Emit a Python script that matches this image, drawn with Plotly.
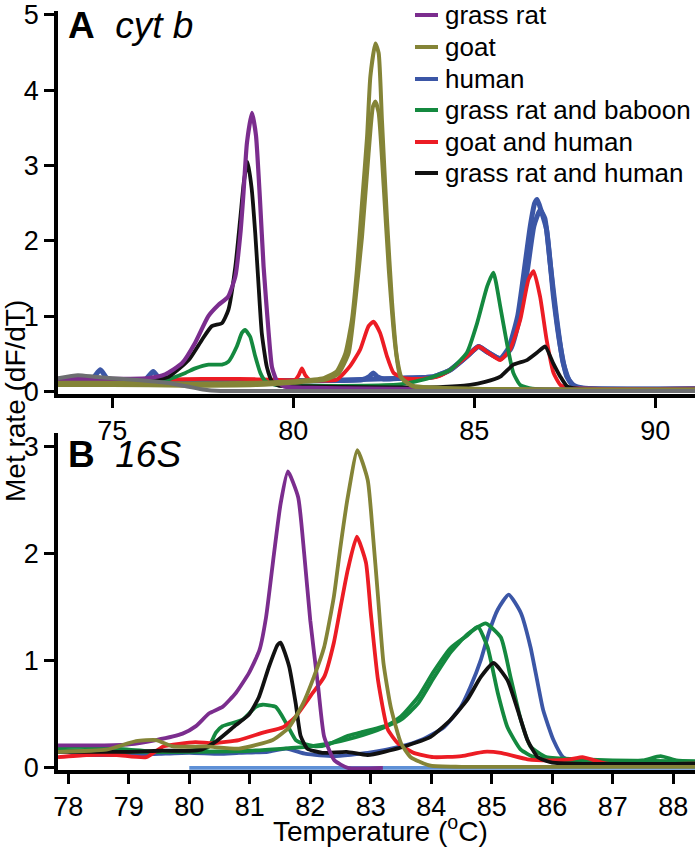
import plotly.graph_objects as go

# ---------------- Panel A (cyt b) data ----------------
A_GRASSRAT_T = [73.5, 74.5, 75.5, 76.0, 76.46, 76.93, 77.29, 77.65, 77.93, 78.2, 78.4, 78.54, 78.62, 78.72, 78.86, 78.97, 79.08, 79.18, 79.32, 79.41, 79.55, 79.75, 80.5, 82.0, 85.0, 91.1]
A_GRASSRAT_V = [0.17, 0.17, 0.17, 0.18, 0.23, 0.38, 0.65, 1.0, 1.15, 1.26, 1.53, 2.1, 2.6, 3.3, 3.70, 3.4, 2.55, 1.66, 0.78, 0.33, 0.14, 0.07, 0.05, 0.04, 0.03, 0.03]

A_GOAT1_T = [73.5, 75.0, 77.0, 79.0, 80.0, 80.84, 81.2, 81.44, 81.62, 81.76, 81.9, 82.04, 82.13, 82.27, 82.36, 82.45, 82.59, 82.73, 82.86, 83.0, 83.3, 85.0, 91.1]
A_GOAT1_V = [0.12, 0.12, 0.11, 0.12, 0.14, 0.18, 0.27, 0.51, 0.95, 1.62, 2.5, 3.38, 4.18, 4.62, 4.49, 3.6, 2.28, 1.18, 0.47, 0.18, 0.08, 0.04, 0.03]
A_GOAT2_T = [73.5, 75.0, 77.0, 79.0, 80.0, 80.9, 81.25, 81.53, 81.71, 81.9, 82.08, 82.2, 82.27, 82.36, 82.5, 82.64, 82.82, 82.96, 83.3, 85.0, 91.1]
A_GOAT2_V = [0.09, 0.09, 0.08, 0.09, 0.12, 0.16, 0.24, 0.51, 1.18, 2.06, 3.16, 3.78, 3.85, 3.7, 2.72, 1.62, 0.6, 0.2, 0.07, 0.03, 0.02]

A_HUMAN1_T = [73.5, 74.4, 74.67, 74.9, 75.5, 75.9, 76.13, 76.35, 77.0, 80.0, 81.9, 82.1, 82.21, 82.32, 82.5, 83.0, 83.88, 84.34, 84.8, 85.12, 85.35, 85.72, 85.95, 86.2, 86.41, 86.55, 86.67, 86.74, 86.85, 87.0, 87.19, 87.38, 87.56, 87.74, 88.0, 91.1]
A_HUMAN1_V = [0.15, 0.15, 0.29, 0.15, 0.14, 0.15, 0.27, 0.15, 0.14, 0.15, 0.16, 0.2, 0.25, 0.2, 0.17, 0.18, 0.2, 0.29, 0.47, 0.6, 0.53, 0.44, 0.58, 1.0, 1.71, 2.2, 2.5, 2.55, 2.4, 2.15, 1.26, 0.6, 0.2, 0.09, 0.05, 0.04]
A_HUMAN2_T = [73.5, 80.0, 83.0, 83.88, 84.34, 84.8, 85.12, 85.35, 85.72, 86.0, 86.25, 86.48, 86.65, 86.82, 86.95, 87.1, 87.27, 87.45, 87.62, 87.8, 91.1]
A_HUMAN2_V = [0.14, 0.14, 0.18, 0.2, 0.29, 0.47, 0.6, 0.53, 0.44, 0.56, 0.98, 1.65, 2.2, 2.41, 2.3, 1.7, 1.0, 0.4, 0.15, 0.06, 0.04]

A_RATBABOON_T = [73.5, 74.5, 75.5, 76.5, 77.02, 77.29, 77.66, 78.03, 78.21, 78.44, 78.58, 78.67, 78.81, 78.95, 79.09, 79.23, 79.5, 80.5, 82.0, 83.0, 83.5, 83.88, 84.34, 84.8, 85.08, 85.36, 85.53, 85.72, 85.9, 86.08, 86.27, 86.6, 91.1]
A_RATBABOON_V = [0.12, 0.14, 0.14, 0.16, 0.25, 0.31, 0.36, 0.36, 0.4, 0.6, 0.78, 0.82, 0.73, 0.47, 0.25, 0.14, 0.09, 0.08, 0.08, 0.1, 0.15, 0.2, 0.29, 0.52, 0.91, 1.4, 1.58, 1.13, 0.65, 0.25, 0.09, 0.04, 0.03]

A_GOATHUMAN_T = [73.5, 74.5, 75.5, 76.5, 77.5, 78.5, 79.5, 80.05, 80.15, 80.24, 80.33, 80.45, 81.2, 81.57, 81.85, 82.08, 82.22, 82.4, 82.59, 82.77, 83.05, 83.5, 83.98, 84.34, 84.8, 85.12, 85.35, 85.72, 85.99, 86.27, 86.5, 86.64, 86.82, 87.0, 87.19, 87.38, 87.6, 91.1]
A_GOATHUMAN_V = [0.15, 0.15, 0.15, 0.16, 0.17, 0.17, 0.16, 0.16, 0.22, 0.31, 0.22, 0.16, 0.16, 0.34, 0.56, 0.87, 0.93, 0.78, 0.47, 0.25, 0.18, 0.17, 0.2, 0.29, 0.47, 0.6, 0.53, 0.42, 0.56, 0.95, 1.49, 1.6, 1.26, 0.69, 0.25, 0.09, 0.05, 0.04]

A_RATHUMAN_T = [73.5, 74.5, 75.5, 76.0, 76.56, 77.11, 77.48, 77.75, 78.03, 78.21, 78.4, 78.54, 78.64, 78.74, 78.85, 78.95, 79.03, 79.13, 79.27, 79.41, 79.6, 80.5, 82.0, 84.0, 84.89, 85.3, 85.72, 86.08, 86.46, 86.74, 86.96, 87.18, 87.38, 87.57, 88.0, 91.1]
A_RATHUMAN_V = [0.16, 0.15, 0.15, 0.15, 0.2, 0.42, 0.69, 0.87, 0.91, 1.09, 1.66, 2.32, 2.8, 3.05, 2.7, 2.1, 1.5, 0.78, 0.33, 0.14, 0.08, 0.07, 0.06, 0.06, 0.09, 0.13, 0.2, 0.36, 0.42, 0.52, 0.6, 0.38, 0.2, 0.07, 0.03, 0.02]

A_CONTROL_T = [73.5, 74.05, 74.5, 75.0, 75.6, 76.5, 77.07, 77.5, 78.0, 79.0, 91.1]
A_CONTROL_V = [0.18, 0.22, 0.2, 0.18, 0.16, 0.12, 0.07, 0.03, 0.01, 0.01, 0.01]

# ---------------- Panel B (16S) data ----------------
B_GRASSRAT_T = [77.83, 78.5, 79.0, 79.45, 79.89, 80.11, 80.33, 80.55, 80.77, 80.99, 81.16, 81.27, 81.4, 81.51, 81.63, 81.8, 81.9, 82.0, 82.13, 82.23, 82.4, 82.62, 83.2]
B_GRASSRAT_V = [0.21, 0.21, 0.22, 0.26, 0.32, 0.39, 0.51, 0.57, 0.7, 0.89, 1.1, 1.41, 2.0, 2.47, 2.77, 2.53, 2.0, 1.38, 0.76, 0.29, 0.07, 0.0, 0.0]

B_GOAT_T = [77.83, 78.63, 79.12, 79.45, 79.73, 80.28, 80.82, 81.38, 81.65, 81.88, 82.06, 82.23, 82.39, 82.5, 82.62, 82.78, 82.95, 83.03, 83.12, 83.21, 83.33, 83.5, 83.66, 83.99, 84.5, 88.36]
B_GOAT_V = [0.15, 0.17, 0.25, 0.26, 0.2, 0.2, 0.18, 0.26, 0.38, 0.6, 0.85, 1.13, 1.6, 2.07, 2.53, 2.97, 2.69, 2.22, 1.6, 0.98, 0.57, 0.23, 0.1, 0.02, 0.01, 0.01]

B_HUMAN_T = [77.83, 78.1, 78.5, 79.0, 79.5, 80.0, 80.5, 80.82, 81.3, 81.6, 81.93, 82.39, 82.95, 83.5, 83.83, 84.21, 84.49, 84.65, 84.82, 84.95, 85.1, 85.28, 85.48, 85.64, 85.76, 85.85, 86.02, 86.18, 86.42, 87.0, 88.36]
B_HUMAN_V = [0.2, 0.13, 0.12, 0.12, 0.13, 0.14, 0.13, 0.14, 0.15, 0.18, 0.13, 0.11, 0.14, 0.2, 0.26, 0.38, 0.57, 0.76, 1.01, 1.26, 1.48, 1.62, 1.45, 1.13, 0.79, 0.54, 0.26, 0.1, 0.05, 0.04, 0.04]
B_BLANK_T = [80.0, 88.36]
B_BLANK_V = [0.0, 0.0]

B_RATBABOON1_T = [77.83, 78.5, 79.0, 79.5, 80.0, 80.31, 80.44, 80.55, 80.88, 81.1, 81.21, 81.43, 81.6, 81.76, 81.87, 82.1, 82.3, 82.62, 82.83, 83.28, 83.5, 83.78, 84.04, 84.32, 84.6, 84.77, 84.93, 85.1, 85.26, 85.48, 85.7, 86.0, 87.0, 87.5, 87.79, 88.05, 88.36]
B_RATBABOON1_V = [0.2, 0.19, 0.17, 0.15, 0.16, 0.19, 0.33, 0.39, 0.45, 0.57, 0.59, 0.57, 0.42, 0.26, 0.23, 0.2, 0.22, 0.3, 0.33, 0.4, 0.48, 0.66, 0.9, 1.12, 1.24, 1.32, 1.13, 0.7, 0.38, 0.17, 0.1, 0.08, 0.06, 0.07, 0.11, 0.07, 0.06]
B_RATBABOON2_T = [77.83, 79.0, 80.0, 81.0, 82.0, 82.5, 83.0, 83.5, 83.78, 84.04, 84.32, 84.6, 84.9, 85.15, 85.31, 85.48, 85.64, 85.9, 86.5, 87.0, 88.36]
B_RATBABOON2_V = [0.17, 0.15, 0.15, 0.16, 0.2, 0.25, 0.33, 0.45, 0.6, 0.84, 1.08, 1.25, 1.35, 1.22, 0.85, 0.45, 0.2, 0.1, 0.08, 0.07, 0.06]

B_GOATHUMAN_T = [77.83, 78.3, 78.8, 79.29, 79.57, 80.1, 80.39, 80.82, 81.22, 81.55, 81.76, 82.04, 82.23, 82.39, 82.5, 82.62, 82.77, 82.92, 83.0, 83.12, 83.28, 83.45, 83.71, 84.04, 84.5, 84.87, 85.15, 85.59, 85.97, 86.3, 86.5, 86.7, 86.9, 88.36]
B_GOATHUMAN_V = [0.1, 0.12, 0.12, 0.1, 0.2, 0.24, 0.23, 0.26, 0.33, 0.38, 0.48, 0.7, 0.85, 1.17, 1.5, 1.85, 2.16, 1.92, 1.45, 0.82, 0.36, 0.23, 0.14, 0.1, 0.11, 0.15, 0.14, 0.08, 0.07, 0.08, 0.1, 0.07, 0.04, 0.04]

B_RATHUMAN_T = [77.83, 78.5, 79.0, 79.5, 80.0, 80.2, 80.45, 80.77, 80.99, 81.15, 81.32, 81.46, 81.51, 81.65, 81.76, 81.84, 81.95, 82.2, 82.6, 82.95, 83.5, 83.99, 84.32, 84.6, 84.82, 85.03, 85.26, 85.43, 85.59, 85.76, 86.0, 88.36]
B_RATHUMAN_V = [0.15, 0.15, 0.15, 0.16, 0.16, 0.17, 0.25, 0.4, 0.5, 0.66, 0.95, 1.15, 1.17, 0.95, 0.6, 0.3, 0.18, 0.14, 0.15, 0.12, 0.19, 0.29, 0.45, 0.64, 0.85, 0.98, 0.82, 0.54, 0.26, 0.1, 0.05, 0.04]

# ---------------- legend / ticks ----------------
LEGEND_NAMES = ["grass rat", "goat", "human", "grass rat and baboon", "goat and human", "grass rat and human"]
COLORS = {"grass rat": "#7b2d8e", "goat": "#848437", "human": "#3b56a6",
          "grass rat and baboon": "#14893f", "goat and human": "#ec1c24",
          "grass rat and human": "#111111", "control": "#6d6e71", "blank": "#5e90d6"}
A_XTICKS = [75, 80, 85, 90]
A_YTICKS = [0, 1, 2, 3, 4, 5]
B_XTICKS = [78, 79, 80, 81, 82, 83, 84, 85, 86, 87, 88]
B_YTICKS = [0, 1, 2, 3]

FONT = "Liberation Sans, Arial, sans-serif"
fig = go.Figure()


def add(t, v, key, axis, width=3.8):
    xa, ya = ("x", "y") if axis == 1 else ("x2", "y2")
    fig.add_trace(go.Scatter(x=t, y=v, mode="lines", xaxis=xa, yaxis=ya,
                             line=dict(color=COLORS[key], width=width, shape="spline", smoothing=0.5),
                             name=key, showlegend=False, hoverinfo="skip"))


# panel A
add(A_HUMAN1_T, A_HUMAN1_V, "human", 1, 5)
add(A_HUMAN2_T, A_HUMAN2_V, "human", 1, 5)
add(A_GOATHUMAN_T, A_GOATHUMAN_V, "goat and human", 1)
add(A_RATBABOON_T, A_RATBABOON_V, "grass rat and baboon", 1)
add(A_RATHUMAN_T, A_RATHUMAN_V, "grass rat and human", 1)
add(A_GRASSRAT_T, A_GRASSRAT_V, "grass rat", 1, 4.2)
add(A_GOAT2_T, A_GOAT2_V, "goat", 1, 4)
add(A_GOAT1_T, A_GOAT1_V, "goat", 1, 4)
add(A_CONTROL_T, A_CONTROL_V, "control", 1, 4)

# panel B
add(B_BLANK_T, B_BLANK_V, "blank", 2, 3.6)
add(B_HUMAN_T, B_HUMAN_V, "human", 2)
add(B_RATBABOON2_T, B_RATBABOON2_V, "grass rat and baboon", 2)
add(B_RATBABOON1_T, B_RATBABOON1_V, "grass rat and baboon", 2)
add(B_GOATHUMAN_T, B_GOATHUMAN_V, "goat and human", 2)
add(B_RATHUMAN_T, B_RATHUMAN_V, "grass rat and human", 2)
add(B_GRASSRAT_T, B_GRASSRAT_V, "grass rat", 2)
add(B_GOAT_T, B_GOAT_V, "goat", 2)

# geometry (pixels)
W, H = 700, 848
ML, MR, MT, MB = 58, 5, 11, 78
PW, PH = W - ML - MR, H - MT - MB


def px_x(p):
    return (p - ML) / PW


def px_y(p):
    return (H - MB - p) / PH


axis_common = dict(showline=True, linewidth=3.5, linecolor="black", ticks="outside",
                   ticklen=10, tickwidth=3, tickcolor="black", showgrid=False, zeroline=False,
                   automargin=False, tickfont=dict(family=FONT, size=27, color="black"))

fig.update_layout(
    template="none",
    width=W, height=H, margin=dict(l=ML, r=MR, t=MT, b=MB, autoexpand=False),
    paper_bgcolor="white", plot_bgcolor="white", showlegend=False,
    font=dict(family=FONT, color="black"),
    xaxis=dict(domain=[0, 1], anchor="y", range=[73.5, 91.1], tickmode="array", tickvals=A_XTICKS, **axis_common),
    yaxis=dict(domain=[px_y(394), 1], anchor="x", range=[-0.03, 5.05], tickmode="array", tickvals=A_YTICKS, **axis_common),
    xaxis2=dict(domain=[0, 1], anchor="y2", range=[77.83, 88.36], tickmode="array", tickvals=B_XTICKS, **axis_common),
    yaxis2=dict(domain=[0, px_y(433)], anchor="x2", range=[-0.02, 3.13], tickmode="array", tickvals=B_YTICKS, **axis_common),
)

ann = [
    dict(text="Met rate (dF/dT)", textangle=-90, x=px_x(16), y=px_y(401), xref="paper", yref="paper",
         xanchor="center", yanchor="middle", showarrow=False, font=dict(family=FONT, size=28)),
    dict(text="Temperature (<sup>o</sup>C)", x=px_x(380), y=px_y(829), xref="paper", yref="paper",
         xanchor="center", yanchor="middle", showarrow=False, font=dict(family=FONT, size=28)),
    dict(text="<b>A</b>\u00a0\u00a0<i>cyt b</i>", x=px_x(66), y=px_y(25), xref="paper", yref="paper",
         xanchor="left", yanchor="middle", showarrow=False, font=dict(family=FONT, size=37)),
    dict(text="<b>B</b>\u00a0\u00a0<i>16S</i>", x=px_x(66), y=px_y(454), xref="paper", yref="paper",
         xanchor="left", yanchor="middle", showarrow=False, font=dict(family=FONT, size=37)),
]
shapes = []
row_y = [15, 47, 79, 110, 142, 173]
for name, ry in zip(LEGEND_NAMES, row_y):
    shapes.append(dict(type="line", xref="paper", yref="paper", x0=px_x(415), x1=px_x(438),
                       y0=px_y(ry), y1=px_y(ry), line=dict(color=COLORS[name], width=4)))
    ann.append(dict(text=name, x=px_x(443), y=px_y(ry), xref="paper", yref="paper",
                    xanchor="left", yanchor="middle", showarrow=False,
                    font=dict(family=FONT, size=26, color="black")))
fig.update_layout(annotations=ann, shapes=shapes)

# the page's default body margin would offset the 700x848 figure; remove it
fig.write_html("out.html", config={"displayModeBar": False},
               post_script="document.body.style.margin='0';document.body.style.overflow='hidden';")
